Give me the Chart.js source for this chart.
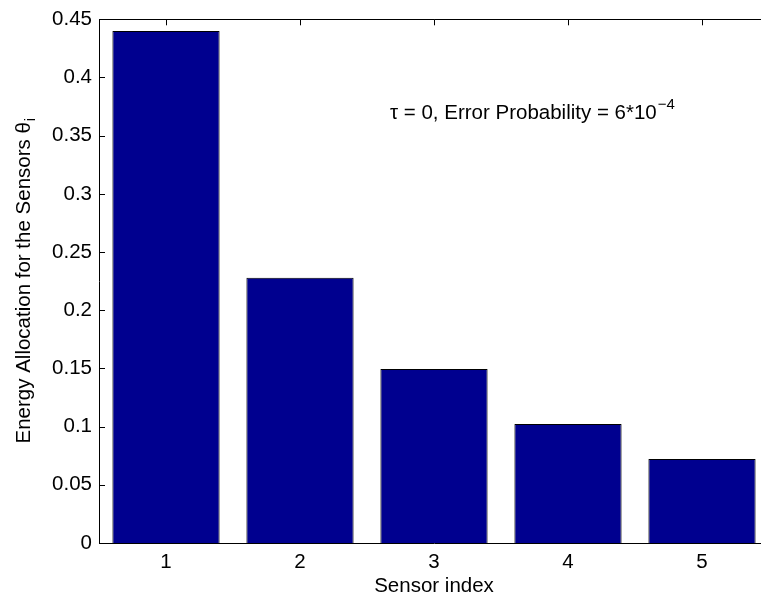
<!DOCTYPE html>
<html>
<head>
<meta charset="utf-8">
<script src="https://cdn.jsdelivr.net/npm/chart.js@4/dist/chart.umd.min.js"></script>
<style>
  html, body { margin: 0; padding: 0; background: #fff; overflow: hidden; }
  #wrap { width: 761px; height: 603px; overflow: hidden; position: relative; }
  canvas { display: block; }
</style>
</head>
<body>
<div id="wrap"><canvas id="c" width="770" height="603"></canvas></div>
<script>
// ---- data ----
const categories = ['1', '2', '3', '4', '5'];
const energyValues = [0.440, 0.228, 0.1495, 0.1023, 0.0722];
const yTickMin = 0;
const yTickMax = 0.45;
const yTickStep = 0.05;
const xAxisTitle = 'Sensor index';
const yAxisTitle = 'Energy Allocation for the Sensors \u03B8';
const yAxisTitleSub = 'i';
const annotationText = '\u03C4 = 0, Error Probability = 6*10';
const annotationSup = '\u22124';

const FONT = '"Liberation Sans", Arial, Helvetica, sans-serif';
const FS = 20.5;
const FS_SMALL = 15;

const boxPlugin = {
  id: 'matlabBox',
  afterDraw(chart) {
    const ctx = chart.ctx;
    const a = chart.chartArea;
    const xs = chart.scales.x, ys = chart.scales.y;
    ctx.save();
    ctx.strokeStyle = '#000';
    ctx.lineWidth = 1;
    ctx.beginPath();
    ctx.rect(Math.round(a.left) + 0.5, Math.round(a.top) + 0.5,
             Math.round(a.right - a.left), Math.round(a.bottom - a.top));
    ctx.stroke();
    // y ticks inward (left and right)
    ys.ticks.forEach(t => {
      const y = Math.round(ys.getPixelForValue(t.value)) + 0.5;
      ctx.beginPath();
      ctx.moveTo(a.left, y); ctx.lineTo(a.left + 6, y);
      ctx.moveTo(a.right, y); ctx.lineTo(a.right - 6, y);
      ctx.stroke();
    });
    // x ticks inward at top
    categories.forEach((c, i) => {
      const x = Math.round(xs.getPixelForValue(i)) + 0.5;
      ctx.beginPath();
      ctx.moveTo(x, a.top); ctx.lineTo(x, a.top + 6);
      ctx.stroke();
    });
    ctx.fillStyle = '#000';
    // x axis title
    ctx.font = FS + 'px ' + FONT;
    ctx.textAlign = 'center';
    ctx.textBaseline = 'middle';
    ctx.fillText(xAxisTitle, (a.left + a.right) / 2, 586);
    // y axis title with subscript
    ctx.save();
    const cy = (a.top + a.bottom) / 2;
    ctx.translate(23, cy);
    ctx.rotate(-Math.PI / 2);
    ctx.font = FS + 'px ' + FONT;
    const w1 = ctx.measureText(yAxisTitle).width;
    ctx.font = FS_SMALL + 'px ' + FONT;
    const w2 = ctx.measureText(yAxisTitleSub).width;
    const start = -(w1 + w2) / 2;
    ctx.textAlign = 'left';
    ctx.textBaseline = 'alphabetic';
    ctx.font = FS + 'px ' + FONT;
    ctx.fillText(yAxisTitle, start, 7);
    ctx.font = FS_SMALL + 'px ' + FONT;
    ctx.fillText(yAxisTitleSub, start + w1 + 1, 12);
    ctx.restore();
    // annotation
    ctx.font = FS + 'px ' + FONT;
    ctx.textAlign = 'left';
    ctx.textBaseline = 'alphabetic';
    ctx.fillText(annotationText, 390, 119);
    const wa = ctx.measureText(annotationText).width;
    ctx.font = FS_SMALL + 'px ' + FONT;
    ctx.fillText(annotationSup, 390 + wa + 1, 109);
    ctx.restore();
  }
};

new Chart(document.getElementById('c'), {
  type: 'bar',
  data: {
    labels: categories,
    datasets: [{
      data: energyValues,
      backgroundColor: '#00008F',
      borderColor: '#000000',
      borderWidth: 1,
      barPercentage: 1.0,
      categoryPercentage: 0.8
    }]
  },
  options: {
    responsive: false,
    animation: false,
    devicePixelRatio: 1,
    layout: { padding: { left: 0, top: 15, right: 1, bottom: 0 } },
    plugins: { legend: { display: false }, tooltip: { enabled: false } },
    scales: {
      x: {
        offset: true,
        grid: { display: false, drawTicks: false },
        border: { display: false },
        ticks: { color: '#000', font: { family: FONT, size: FS }, padding: 7, maxRotation: 0 },
        afterFit(s) { s.height = 60; }
      },
      y: {
        min: yTickMin,
        max: yTickMax,
        grid: { display: false, drawTicks: false },
        border: { display: false },
        ticks: {
          stepSize: yTickStep,
          color: '#000',
          font: { family: FONT, size: FS },
          padding: 7,
          callback: v => String(Number(v.toFixed(2)))
        },
        afterFit(s) { s.width = 99; }
      }
    }
  },
  plugins: [boxPlugin]
});
</script>
</body>
</html>
